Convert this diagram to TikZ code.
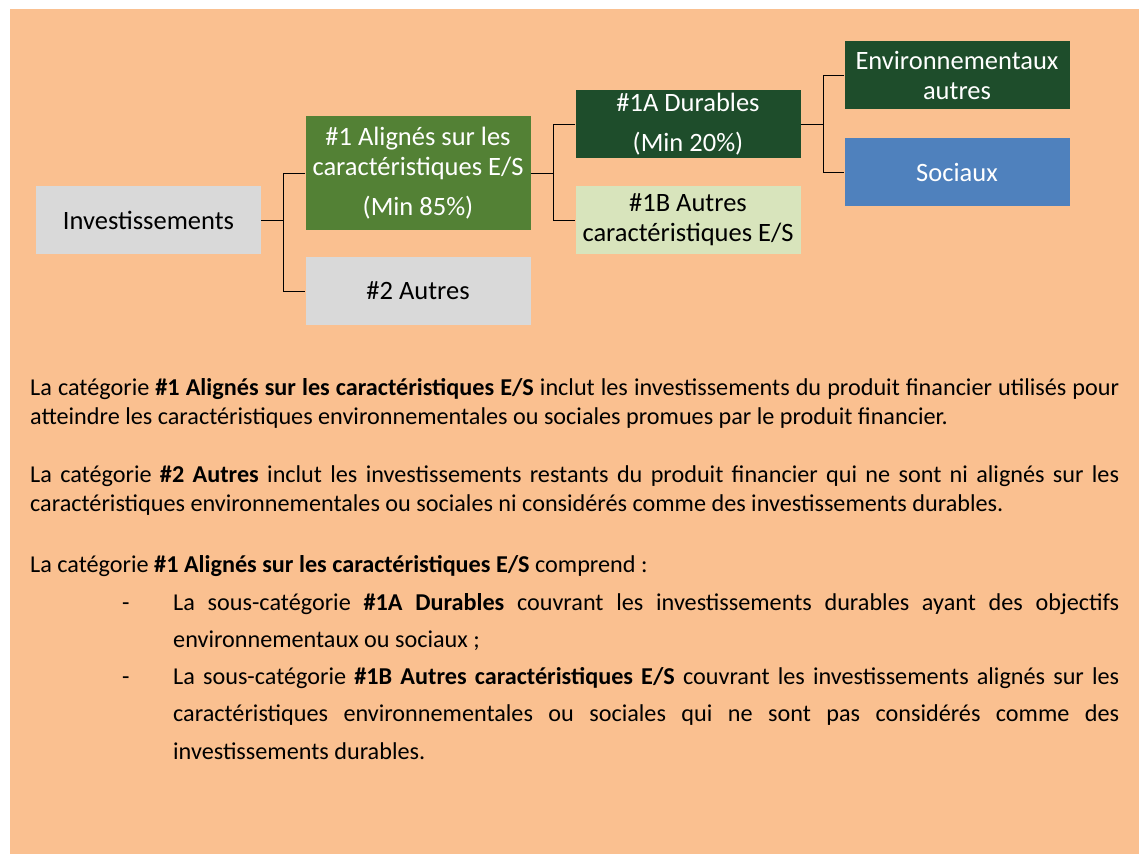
\documentclass[tikz,border=0pt]{standalone}
\usepackage{fontspec}
\setmainfont{Carlito}
\usepackage{tikz}

\definecolor{peach}{HTML}{FAC090}
\definecolor{boxgray}{HTML}{D9D9D9}
\definecolor{midgreen}{HTML}{538135}
\definecolor{darkgreen}{HTML}{1E4D2B}
\definecolor{lightgreen}{HTML}{D8E4BC}
\definecolor{boxblue}{HTML}{4F81BD}

\begin{document}
\begin{tikzpicture}[x=1pt, y=-1pt,
  box/.style={minimum width=225pt, minimum height=68pt, inner sep=0pt, align=center, font=\fontsize{26.5}{30}\selectfont},
  para/.style={anchor=base west, inner sep=0pt, align=justify, font=\fontsize{24.2}{29.5}\selectfont},
  item/.style={para, font=\fontsize{24.2}{37.3}\selectfont},
  link/.style={line width=1pt}]

\useasboundingbox (0,0) rectangle (1145,854);
\fill[peach] (10,9) rectangle (1139,854);

\node[box, fill=boxgray] (inv) at (148.5,220) {Investissements};
\node[box, fill=midgreen, text=white, minimum height=114pt] (one) at (418,173)
  {\#1 Alignés sur les\\caractéristiques E/S\\[10pt](Min 85\%)};
\node[box, fill=boxgray] (two) at (418,291) {\#2 Autres};
\node[box, fill=darkgreen, text=white] (oneA) at (688,124) {\#1A Durables\\[10pt](Min 20\%)};
\node[box, fill=lightgreen] (oneB) at (688,220) {\#1B Autres\\caractéristiques E/S};
\node[box, fill=darkgreen, text=white] (env) at (957,75) {Environnementaux\\autres};
\node[box, fill=boxblue, text=white] (soc) at (957,172) {Sociaux};

\draw[link] (inv.east) -- ++(22.5,0) coordinate (j1);
\draw[link] (one.west) -| (j1) |- (two.west);
\draw[link] (one.east) -- ++(23,0) coordinate (j2);
\draw[link] (oneA.west) -| (j2) |- (oneB.west);
\draw[link] (oneA.east) -- ++(22.5,0) coordinate (j3);
\draw[link] (env.west) -| (j3) |- (soc.west);

\node[para, text width=1089pt] (p1) at (30,395)
  {La catégorie \textbf{\#1 Alignés sur les caractéristiques E/S} inclut les investissements du produit financier utilisés pour\linebreak
   atteindre les caractéristiques environnementales ou sociales promues par le produit financier.};
\node[para, text width=1089pt] (p2) at (30,482)
  {La catégorie \textbf{\#2 Autres} inclut les investissements restants du produit financier qui ne sont ni alignés sur les\linebreak
   caractéristiques environnementales ou sociales ni considérés comme des investissements durables.};
\node[para, text width=1089pt] (p3) at (30,572)
  {La catégorie \textbf{\#1 Alignés sur les caractéristiques E/S} comprend~:};

\node[para] (d1) at (122,610) {-};
\node[item, text width=946pt] (i1) at (173,610)
  {La sous-catégorie \textbf{\#1A Durables} couvrant les investissements durables ayant des objectifs\linebreak
   environnementaux ou sociaux~;};
\node[para] (d2) at (122,684.5) {-};
\node[item, text width=946pt] (i2) at (173,684.5)
  {La sous-catégorie \textbf{\#1B Autres caractéristiques E/S} couvrant les investissements alignés sur les\linebreak
   caractéristiques environnementales ou sociales qui ne sont pas considérés comme des\linebreak
   investissements durables.};

\end{tikzpicture}
\end{document}
